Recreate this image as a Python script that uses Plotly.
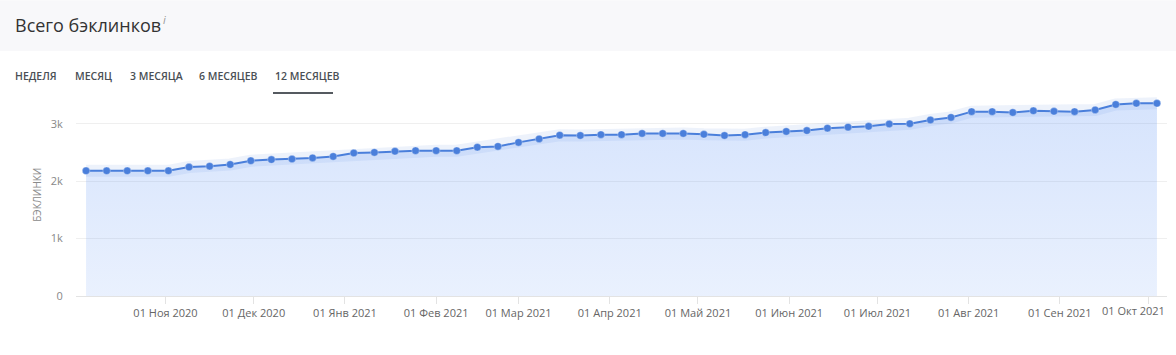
import pandas as pd
import plotly.graph_objects as go

# ---- data ----
start_date = "2020-10-05"
backlinks = [2180, 2180, 2180, 2180, 2180, 2245, 2260, 2290, 2355, 2375,
             2385, 2405, 2430, 2490, 2500, 2520, 2530, 2530, 2530, 2590,
             2605, 2675, 2735, 2800, 2795, 2810, 2810, 2830, 2830, 2830,
             2815, 2795, 2810, 2845, 2865, 2880, 2922, 2940, 2955, 2995,
             3000, 3065, 3110, 3210, 3210, 3195, 3225, 3215, 3210, 3240,
             3335, 3355, 3355]
dates = pd.date_range(start_date, periods=len(backlinks), freq="7D")

month_ticks = ["2020-11-01", "2020-12-01", "2021-01-01", "2021-02-01", "2021-03-01",
               "2021-04-01", "2021-05-01", "2021-06-01", "2021-07-01", "2021-08-01",
               "2021-09-01", "2021-10-01"]
month_labels = ["01 Ноя 2020", "01 Дек 2020", "01 Янв 2021", "01 Фев 2021", "01 Мар 2021",
                "01 Апр 2021", "01 Май 2021", "01 Июн 2021", "01 Июл 2021", "01 Авг 2021",
                "01 Сен 2021", "01 Окт 2021"]
y_ticks = [0, 1000, 2000, 3000]
y_labels = ["0", "1k", "2k", "3k"]
tabs = ["НЕДЕЛЯ", "МЕСЯЦ", "3 МЕСЯЦА", "6 МЕСЯЦЕВ", "12 МЕСЯЦЕВ"]
tab_x_px = [13, 73, 128, 197, 273]
title_text = "Всего бэклинков"
y_title = "БЭКЛИНКИ"

# ---- geometry ----
W, H = 1176, 355
ML, MR, MT, MB = 76, 9, 95, 58.5
PW = W - ML - MR
PH = H - MT - MB

def px_x(px):
    return (px - ML) / PW

def px_y(py):
    return (H - MB - py) / PH

LINE = "#4a7fdb"
FONT = "Open Sans"

fig = go.Figure()

# soft glow under the line
fig.add_trace(go.Scatter(
    x=dates, y=backlinks, mode="lines",
    line=dict(color="rgba(74,127,219,0.10)", width=12, shape="linear"),
    hoverinfo="skip", showlegend=False))

fig.add_trace(go.Scatter(
    x=dates, y=backlinks, mode="lines+markers",
    line=dict(color=LINE, width=2),
    marker=dict(color=LINE, size=7.5, line=dict(color="rgba(255,255,255,0.6)", width=0.5)),
    fill="tozeroy",
    fillgradient=dict(type="vertical",
                      colorscale=[[0, "rgba(90,145,245,0.13)"], [1, "rgba(90,145,245,0.25)"]]),
    showlegend=False))

shapes = [
    dict(type="rect", xref="paper", yref="paper",
         x0=px_x(0), x1=px_x(W), y0=px_y(51), y1=px_y(0),
         fillcolor="#f8f8fa", line=dict(width=0), layer="below"),
    dict(type="line", xref="paper", yref="paper",
         x0=px_x(273), x1=px_x(333), y0=px_y(93), y1=px_y(93),
         line=dict(color="#555a60", width=2)),
]

annotations = [
    dict(text=title_text, xref="paper", yref="paper", x=px_x(13), y=px_y(25),
         xanchor="left", yanchor="middle", showarrow=False,
         font=dict(family=FONT, size=18, color="#333333")),
    dict(text="<i>i</i>", xref="paper", yref="paper", x=px_x(161), y=px_y(19),
         xanchor="left", yanchor="middle", showarrow=False,
         font=dict(family=FONT, size=11, color="#999999")),
    dict(text=y_title, xref="paper", yref="paper", x=px_x(37), y=px_y(195),
         xanchor="center", yanchor="middle", textangle=-90, showarrow=False,
         font=dict(family=FONT, size=10, color="#8a8a8a")),
    # last month label, pulled inside the page edge as in the original
    dict(text=month_labels[-1], xref="paper", yref="paper", x=1.0, y=px_y(311),
         xanchor="right", yanchor="middle", showarrow=False,
         font=dict(family=FONT, size=11, color="#666666")),
]
for t, xp in zip(tabs, tab_x_px):
    annotations.append(dict(text=t, xref="paper", yref="paper", x=px_x(xp), y=px_y(76),
                            xanchor="left", yanchor="middle", showarrow=False,
                            font=dict(family=FONT, size=10.5, color="#4a4f55", weight=600)))

tick_text = month_labels[:-1] + [""]

fig.update_layout(
    width=W, height=H,
    margin=dict(l=ML, r=MR, t=MT, b=MB, pad=0),
    paper_bgcolor="white", plot_bgcolor="white",
    shapes=shapes, annotations=annotations,
    xaxis=dict(type="date",
               range=["2020-10-01 14:00", "2021-10-07 10:00"],
               tickvals=month_ticks, ticktext=tick_text,
               tickfont=dict(family=FONT, size=11, color="#666666"),
               ticks="outside", ticklen=7, tickcolor="#e3e3e3",
               showgrid=False, showline=True, linecolor="#e3e3e3", linewidth=1,
               zeroline=False, fixedrange=True),
    yaxis=dict(range=[0, 3500], tickvals=y_ticks, ticktext=y_labels,
               tickfont=dict(family=FONT, size=11, color="#888888"),
               ticks="outside", ticklen=10, tickcolor="rgba(0,0,0,0)",
               showgrid=True, gridcolor="#efefef", gridwidth=1,
               zeroline=False, showline=False, fixedrange=True),
)

fig.write_html("out.html")
